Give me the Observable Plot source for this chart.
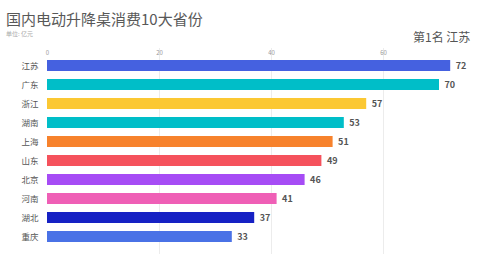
<!DOCTYPE html>
<html><head><meta charset="utf-8">
<script src="https://cdn.jsdelivr.net/npm/d3@7"></script>
<script src="https://cdn.jsdelivr.net/npm/@observablehq/plot@0.6"></script>
<style>
body{margin:0;background:#fff;font-family:"Noto Sans CJK SC","Noto Sans",sans-serif;}
#wrap{position:relative;width:500px;height:274px;overflow:hidden;}
#title{position:absolute;left:6px;top:11px;font-size:15px;line-height:15px;color:#585858;white-space:nowrap;}
#sub{position:absolute;left:6px;top:31px;font-size:6px;line-height:6px;color:#aaa;white-space:nowrap;}
#rank{position:absolute;left:413px;top:31px;font-size:12px;line-height:12px;color:#555;white-space:nowrap;}
</style></head>
<body><div id="wrap"><div id="title">国内电动升降桌消费10大省份</div><div id="sub">单位: 亿元</div><div id="rank">第1名 江苏</div></div>
<script>
const provinces = ["江苏","广东","浙江","湖南","上海","山东","北京","河南","湖北","重庆"];
const values = [72,70,57,53,51,49,46,41,37,33];
const colors = ["#4561e0","#00bec8","#fbc833","#00bec8","#f7822c","#f5525c","#a64cf5","#ef5fb6","#1621c4","#4a72e6"];
const xTicks = [0,20,40,60];
const data = provinces.map((p,i)=>({p, v: values[i], c: colors[i]}));
const chart = Plot.plot({
  width: 500, height: 274,
  marginLeft: 47, marginRight: 5, marginTop: 48, marginBottom: 20,
  style: {fontFamily: '"Noto Sans CJK SC","Noto Sans",sans-serif', background: "transparent"},
  x: {domain: [0, 80]},
  y: {domain: provinces, padding: 0.44},
  marks: [
    Plot.gridX(xTicks.slice(1), {stroke: "#ececec", strokeOpacity: 1}),
    Plot.axisX(xTicks, {anchor: "top", tickSize: 0, tickPadding: -6, fontSize: 6, fill: "#999", label: null}),
    Plot.axisY({tickSize: 0, tickPadding: 9, fontSize: 8.5, fill: "#555", label: null}),
    Plot.barX(data, {x: "v", y: "p", fill: "c"}),
    Plot.text(data, {x: "v", y: "p", text: d => String(d.v), dx: 5, textAnchor: "start", fontSize: 9, fontWeight: "bold", fill: "#555"})
  ]
});
chart.style.position = "absolute"; chart.style.left = "0"; chart.style.top = "0";
document.getElementById("wrap").prepend(chart);
</script></body></html>
